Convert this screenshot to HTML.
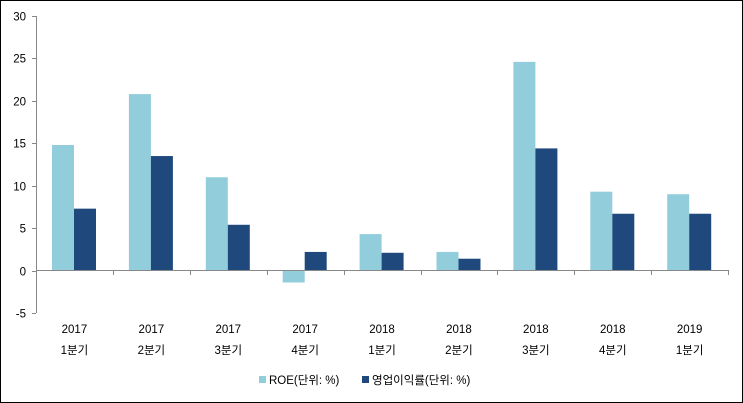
<!DOCTYPE html>
<html><head><meta charset="utf-8"><style>
body{margin:0;background:#fff}
svg{display:block}
text{font-family:"Liberation Sans","Noto Sans CJK KR",sans-serif;font-size:11.5px;fill:#000}
</style></head><body>
<svg width="743" height="403" xmlns="http://www.w3.org/2000/svg">
<rect x="0.5" y="0.5" width="742" height="402" fill="#fff" stroke="#000"/>
<g id="bars"></g>
<g stroke="#888" stroke-width="1">
<line x1="36.5" y1="16" x2="36.5" y2="313"/>
<line x1="36" y1="270.5" x2="729" y2="270.5"/>
</g>
<g id="ticks" stroke="#888"></g>
<g id="labels"></g>
<rect x="259" y="376" width="7" height="7" fill="#92CDDC"/>
<text x="269" y="384">ROE(단위: %)</text>
<rect x="362" y="376" width="7" height="7" fill="#1F497D"/>
<text x="372" y="384">영업이익률(단위: %)</text>
</svg>
<script>
var ns="http://www.w3.org/2000/svg";
function el(p,t,a,txt){var e=document.createElementNS(ns,t);for(var k in a)e.setAttribute(k,a[k]);if(txt)e.textContent=txt;document.getElementById(p).appendChild(e);}
var roe=[14.8,20.8,11,-1.4,4.3,2.2,24.6,9.3,9.0],opm=[7.3,13.5,5.4,2.2,2.1,1.4,14.4,6.7,6.7];
var yr=["2017","2017","2017","2017","2018","2018","2018","2018","2019"],q=["1분기","2분기","3분기","4분기","1분기","2분기","3분기","4분기","1분기"];
function Y(v){return 270.6-v*8.486;}
var w=76.9;
for(var i=0;i<9;i++){
 var x0=36+i*w;
 [[roe[i],"#92CDDC",16],[opm[i],"#1F497D",38]].forEach(function(b){
  var y1=Y(Math.max(b[0],0)),y2=Y(Math.min(b[0],0));
  el("bars","rect",{x:x0+b[2],y:y1,width:22,height:y2-y1,fill:b[1]});
 });
 el("labels","text",{x:x0+w/2,y:333,"text-anchor":"middle"},yr[i]);
 el("labels","text",{x:x0+w/2,y:354,"text-anchor":"middle"},q[i]);
}
for(var i=0;i<=9;i++){var x=Math.round(36+i*w)+0.5;el("ticks","line",{x1:x,y1:270,x2:x,y2:275});}
for(var v=-5;v<=30;v+=5){var y=Math.round(Y(v))+0.5;el("ticks","line",{x1:32,y1:y,x2:36,y2:y});
 el("labels","text",{x:26,y:y+4,"text-anchor":"end"},String(v));}
</script>
</body></html>
